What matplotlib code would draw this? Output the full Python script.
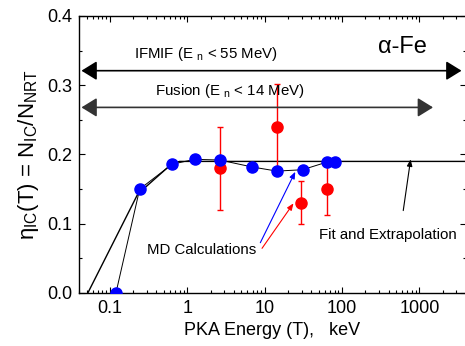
import matplotlib
matplotlib.use('Agg')
import matplotlib.pyplot as plt
from matplotlib.ticker import LogLocator, MultipleLocator, FixedFormatter, FixedLocator

plt.rcParams['font.family'] = ['Liberation Sans', 'DejaVu Sans']
plt.rcParams['mathtext.default'] = 'regular'

# MD results (blue) and their connecting curve
md_energy = [0.12, 0.243, 0.64, 1.25, 2.63, 6.88, 14.4, 30.9, 63.7, 82.0]
md_eta = [0.0, 0.150, 0.186, 0.193, 0.192, 0.182, 0.176, 0.178, 0.189, 0.189]

# second MD set (red) with error bars
md2_energy = [2.63, 14.4, 29.7, 63.7]
md2_eta = [0.180, 0.240, 0.130, 0.150]
md2_err_lo = [0.060, 0.060, 0.030, 0.038]
md2_err_hi = [0.060, 0.062, 0.031, 0.040]

# fit and extrapolation
fit_energy = [0.052, 0.23, 0.64, 0.8, 4000]
fit_eta = [0.0, 0.143, 0.187, 0.190, 0.190]

# neutron spectrum ranges
ifmif_range = (0.043, 3500)
fusion_range = (0.043, 1500)
ifmif_y = 0.321
fusion_y = 0.268

xticks = [0.1, 1, 10, 100, 1000]
xtick_labels = ['0.1', '1', '10', '100', '1000']

fig = plt.figure(figsize=(4.65, 3.46), dpi=100)
ax = fig.add_axes([0.1699, 0.1532, 0.8323, 0.8006])

ax.plot(fit_energy, fit_eta, color='black', lw=1.0, zorder=2)
ax.plot(md_energy, md_eta, color='black', lw=0.7, zorder=2)
ax.errorbar(md2_energy, md2_eta, yerr=[md2_err_lo, md2_err_hi], fmt='o',
            color='red', ms=8, elinewidth=1.0, capsize=2.5, capthick=1.0, zorder=3)
ax.plot(md_energy, md_eta, 'o', color='blue', ms=8, zorder=4)

ax.annotate('', xy=(ifmif_range[1], ifmif_y), xytext=(ifmif_range[0], ifmif_y),
            arrowprops=dict(arrowstyle='<|-|>,head_length=0.55,head_width=0.34',
                            color='black', lw=1.2, mutation_scale=17,
                            shrinkA=0, shrinkB=0))
ax.annotate('', xy=(fusion_range[1], fusion_y), xytext=(fusion_range[0], fusion_y),
            arrowprops=dict(arrowstyle='<|-|>,head_length=0.55,head_width=0.34',
                            color='0.2', lw=1.2, mutation_scale=17,
                            shrinkA=0, shrinkB=0))

ax.text(1.72, 0.345, 'IFMIF (E $_{n}$ < 55 MeV)', ha='center', va='center', fontsize=10.8)
ax.text(3.51, 0.2917, 'Fusion (E $_{n}$ < 14 MeV)', ha='center', va='center', fontsize=10.8)
ax.text(612, 0.3557, 'α-Fe', ha='center', va='center', fontsize=17)

ax.text(1.515, 0.062, 'MD Calculations', ha='center', va='center', fontsize=10.8)
ax.text(393, 0.0838, 'Fit and Extrapolation', ha='center', va='center', fontsize=10.8)

arrow_kw = dict(arrowstyle='-|>,head_length=0.5,head_width=0.2', lw=0.8,
                mutation_scale=8, shrinkA=0, shrinkB=0)
ax.annotate('', xy=(24.9, 0.175), xytext=(8.8, 0.0726),
            arrowprops=dict(color='blue', **arrow_kw))
ax.annotate('', xy=(23.6, 0.1295), xytext=(9.26, 0.0645),
            arrowprops=dict(color='red', **arrow_kw))
ax.annotate('', xy=(770, 0.193), xytext=(618, 0.119),
            arrowprops=dict(color='black', **arrow_kw))

ax.set_xscale('log')
ax.set_xlim(0.04, 4000)
ax.set_ylim(0.0, 0.4)
ax.xaxis.set_major_locator(FixedLocator(xticks))
ax.xaxis.set_major_formatter(FixedFormatter(xtick_labels))
ax.xaxis.set_minor_locator(LogLocator(base=10, subs=range(2, 10), numticks=20))
ax.yaxis.set_major_locator(MultipleLocator(0.1))
ax.yaxis.set_minor_locator(MultipleLocator(0.05))
ax.yaxis.set_major_formatter(plt.FuncFormatter(lambda v, p: f'{v:.1f}'))
ax.tick_params(which='both', direction='in', top=True, right=True, labelsize=13, width=0.8)
ax.tick_params(which='major', length=4, pad=5)
ax.tick_params(which='minor', length=2.5)
for s in ax.spines.values():
    s.set_linewidth(1.0)

ax.set_xlabel('PKA Energy (T),   keV', fontsize=13, labelpad=4)
ax.set_ylabel('η$_{IC}$(T) = N$_{IC}$/N$_{NRT}$', fontsize=16, labelpad=4)

fig.savefig('out.png', dpi=100)
